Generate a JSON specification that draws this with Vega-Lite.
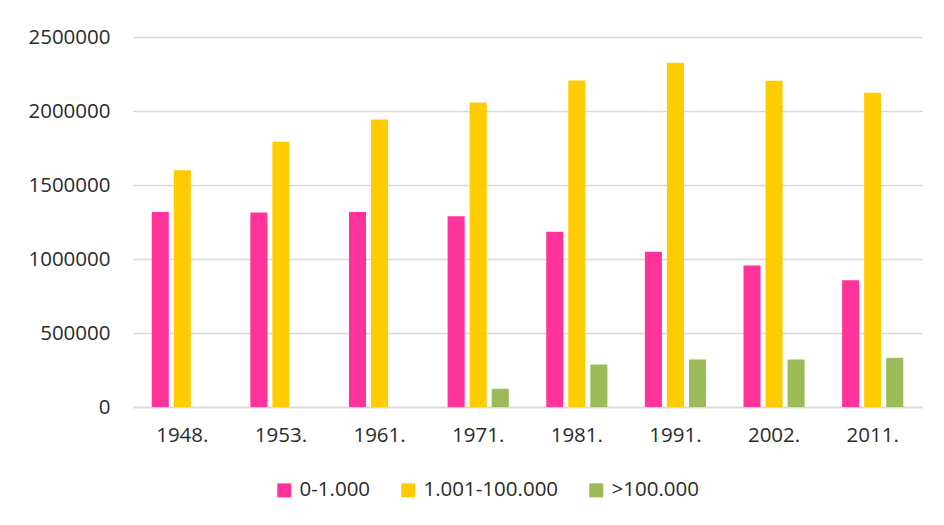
{
  "$schema": "https://vega.github.io/schema/vega-lite/v6.json",
  "autosize": "none",
  "width": 789,
  "height": 370,
  "padding": {"left": 133, "top": 37, "right": 22, "bottom": 118},
  "background": "white",
  "data": {
    "values": [
      {"year": "1948.", "group": "0-1.000", "value": 1318000},
      {"year": "1948.", "group": "1.001-100.000", "value": 1600000},
      {"year": "1953.", "group": "0-1.000", "value": 1315000},
      {"year": "1953.", "group": "1.001-100.000", "value": 1792000},
      {"year": "1961.", "group": "0-1.000", "value": 1317000},
      {"year": "1961.", "group": "1.001-100.000", "value": 1943000},
      {"year": "1971.", "group": "0-1.000", "value": 1289000},
      {"year": "1971.", "group": "1.001-100.000", "value": 2057000},
      {"year": "1971.", "group": ">100.000", "value": 123000},
      {"year": "1981.", "group": "0-1.000", "value": 1184000},
      {"year": "1981.", "group": "1.001-100.000", "value": 2206000},
      {"year": "1981.", "group": ">100.000", "value": 287000},
      {"year": "1991.", "group": "0-1.000", "value": 1049000},
      {"year": "1991.", "group": "1.001-100.000", "value": 2326000},
      {"year": "1991.", "group": ">100.000", "value": 321000},
      {"year": "2002.", "group": "0-1.000", "value": 956000},
      {"year": "2002.", "group": "1.001-100.000", "value": 2204000},
      {"year": "2002.", "group": ">100.000", "value": 321000},
      {"year": "2011.", "group": "0-1.000", "value": 857000},
      {"year": "2011.", "group": "1.001-100.000", "value": 2123000},
      {"year": "2011.", "group": ">100.000", "value": 332000}
    ]
  },
  "mark": {"type": "bar"},
  "encoding": {
    "x": {
      "field": "year",
      "type": "nominal",
      "sort": null,
      "scale": {"paddingInner": 0.38, "paddingOuter": 0.19},
      "axis": {
        "title": null,
        "labelAngle": 0,
        "ticks": false,
        "domainColor": "#d9d9d9",
        "domainWidth": 1.5,
        "labelPadding": 18,
        "labelFont": "Open Sans",
        "labelFontSize": 20.5,
        "labelColor": "#2b2b2b"
      }
    },
    "xOffset": {
      "field": "group",
      "type": "nominal",
      "scale": {"domain": ["0-1.000", "1.001-100.000", ">100.000"], "paddingInner": 0.227, "paddingOuter": 0}
    },
    "y": {
      "field": "value",
      "type": "quantitative",
      "scale": {"domain": [0, 2500000], "nice": false},
      "axis": {
        "title": null,
        "values": [0, 500000, 1000000, 1500000, 2000000, 2500000],
        "format": "d",
        "domain": false,
        "ticks": false,
        "gridColor": "#d9d9d9",
        "gridWidth": 1.5,
        "labelPadding": 23,
        "labelFont": "Open Sans",
        "labelFontSize": 20.5,
        "labelColor": "#2b2b2b"
      }
    },
    "color": {
      "field": "group",
      "type": "nominal",
      "scale": {
        "domain": ["0-1.000", "1.001-100.000", ">100.000"],
        "range": ["#FF3399", "#FFCC00", "#9BBB59"]
      },
      "legend": {
        "title": null,
        "orient": "none",
        "direction": "horizontal",
        "legendX": 141,
        "legendY": 443,
        "symbolType": "square",
        "symbolSize": 196,
        "symbolStrokeWidth": 0,
        "labelOffset": 5,
        "columnPadding": 27,
        "labelFont": "Open Sans",
        "labelFontSize": 20.5,
        "labelColor": "#2b2b2b"
      }
    }
  },
  "config": {
    "view": {"stroke": null}
  }
}
